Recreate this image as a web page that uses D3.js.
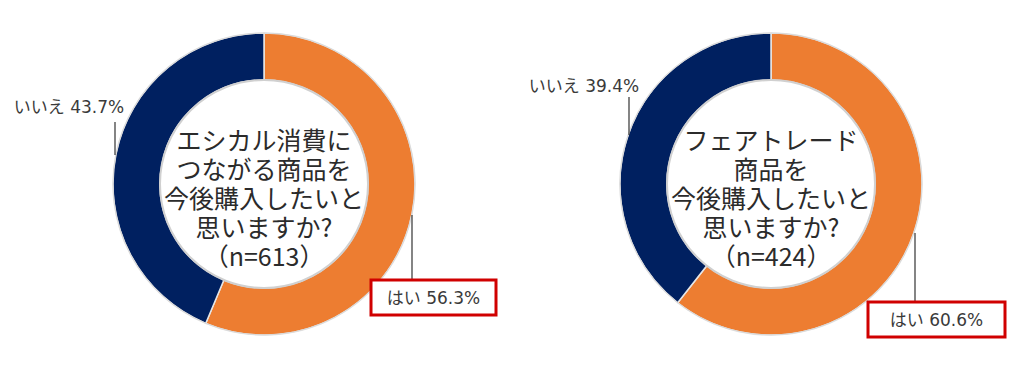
<!DOCTYPE html>
<html>
<head>
<meta charset="utf-8">
<script src="https://cdn.jsdelivr.net/npm/d3@7"></script>
<style>
body{margin:0;background:#fff;}
svg{display:block;}
</style>
</head>
<body>
<svg id="chart" width="1024" height="366"></svg>
<script>
// data
var answers = ["はい", "いいえ"];
var ethicalValues = [56.3, 43.7];
var fairtradeValues = [60.6, 39.4];
var ethicalTitle = ["エシカル消費に", "つながる商品を", "今後購入したいと", "思いますか?", "（n=613）"];
var fairtradeTitle = ["フェアトレード", "商品を", "今後購入したいと", "思いますか?", "（n=424）"];

var colors = d3.scaleOrdinal().domain(answers).range(["#ED7D31", "#002060"]);
var svg = d3.select("#chart");
var outerR = 151, innerR = 104;
var labelFont = "'DejaVu Sans','Noto Sans CJK JP',sans-serif";

var pie = d3.pie().sort(null).value(function(d){ return d.v; });
var arc = d3.arc().innerRadius(innerR).outerRadius(outerR);

// opts : yes label box, no label, leader lines (relative to center)
function donut(cx, cy, values, title, opts){
	var data = answers.map(function(a, i){ return {name: a, v: values[i]}; });
	var g = svg.append("g").attr("transform", "translate(" + cx + "," + cy + ")");

	g.selectAll("path.slice")
		.data(pie(data))
		.enter().append("path")
		.attr("class", "slice")
		.attr("d", arc)
		.attr("fill", function(d){ return colors(d.data.name); })
		.attr("stroke", "#e6e6e6")
		.attr("stroke-width", 1.5);

	// thin grey rims
	g.append("circle").attr("r", outerR).attr("fill", "none").attr("stroke", "#d9d9d9").attr("stroke-width", 1);
	g.append("circle").attr("r", innerR).attr("fill", "#fff").attr("stroke", "#d0d0d0").attr("stroke-width", 2);

	g.append("text")
		.attr("text-anchor", "middle")
		.attr("font-family", "'Noto Sans CJK JP',sans-serif")
		.attr("font-size", 25)
		.attr("fill", "#2b2b2b")
		.selectAll("tspan")
		.data(title)
		.enter().append("tspan")
		.attr("x", 0)
		.attr("y", function(d, i){ return -34 + i * 29; })
		.text(function(d){ return d; });

	// いいえ label
	g.append("text")
		.attr("x", opts.noX).attr("y", opts.noY)
		.attr("text-anchor", "middle")
		.attr("font-family", labelFont)
		.attr("font-size", 17)
		.attr("fill", "#3a3a3a")
		.text(answers[1] + " " + values[1].toFixed(1) + "%");
	g.append("line")
		.attr("x1", opts.noLineX).attr("x2", opts.noLineX)
		.attr("y1", opts.noLine[0]).attr("y2", opts.noLine[1])
		.attr("stroke", "#333").attr("stroke-width", 1.2);

	// はい label with red box
	g.append("line")
		.attr("x1", opts.yesLineX).attr("x2", opts.yesLineX)
		.attr("y1", opts.yesLine[0]).attr("y2", opts.yesLine[1])
		.attr("stroke", "#333").attr("stroke-width", 1.2);
	g.append("rect")
		.attr("x", opts.box[0]).attr("y", opts.box[1])
		.attr("width", opts.box[2]).attr("height", opts.box[3])
		.attr("fill", "#fff")
		.attr("stroke", "#D00000")
		.attr("stroke-width", 3);
	g.append("text")
		.attr("x", opts.box[0] + opts.box[2] / 2)
		.attr("y", opts.box[1] + opts.box[3] / 2 + 6)
		.attr("text-anchor", "middle")
		.attr("font-family", labelFont)
		.attr("font-size", 17)
		.attr("fill", "#3a3a3a")
		.text(answers[0] + " " + values[0].toFixed(1) + "%");
}

donut(264, 184, ethicalValues, ethicalTitle, {
	noX: -195, noY: -71, noLineX: -149, noLine: [-62, -29],
	yesLineX: 148, yesLine: [31, 96],
	box: [107, 96, 125, 35]
});
donut(771, 184, fairtradeValues, fairtradeTitle, {
	noX: -187, noY: -92, noLineX: -142, noLine: [-87, -49],
	yesLineX: 144, yesLine: [49, 118],
	box: [97, 118, 137, 35]
});
</script>
</body>
</html>
